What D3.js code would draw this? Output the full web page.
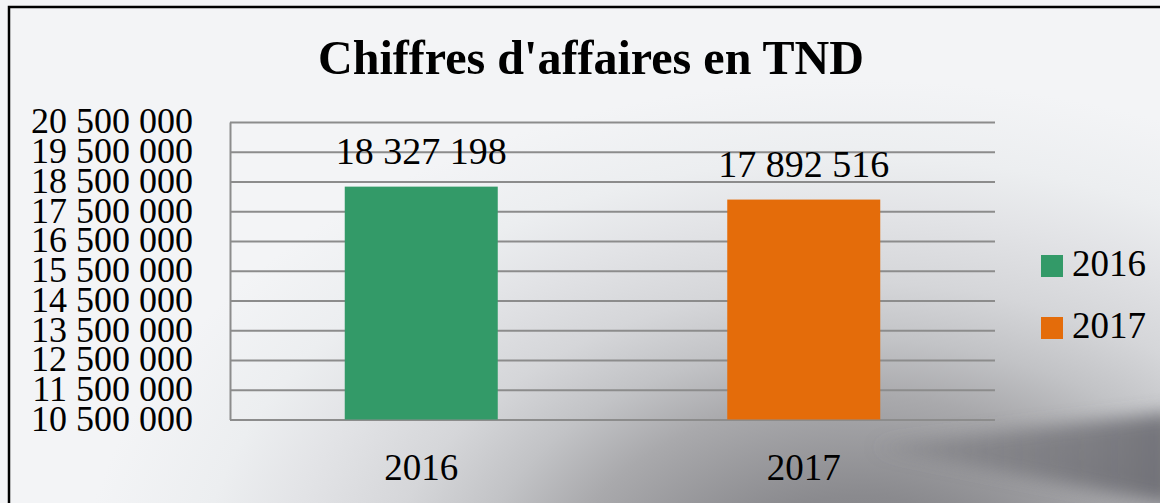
<!DOCTYPE html>
<html>
<head>
<meta charset="utf-8">
<script src="https://cdn.jsdelivr.net/npm/d3@7"></script>
<style>
  html, body { margin: 0; padding: 0; overflow: hidden; background: #f3f4f6; }
  text { font-family: "Palatino Linotype", "Book Antiqua", Palatino, "Liberation Serif", serif; fill: #000; }
</style>
</head>
<body>
<script>
// Données du graphique
const years = ["2016", "2017"];
const revenues = [18327198, 17892516];
const colors = ["#339a68", "#e46c0a"];
const tickValues = [10500000, 11500000, 12500000, 13500000, 14500000, 15500000,
  16500000, 17500000, 18500000, 19500000, 20500000];

const width = 1160;
const height = 503;
const plot = { left: 230, right: 995, top: 122, bottom: 419.5 };

const svg = d3.select("body").append("svg")
  .attr("width", width)
  .attr("height", height);

const defs = svg.append("defs");

// fond : photo grise simulée (ombre en bas à droite)
const bg = defs.append("radialGradient")
  .attr("id", "bgShade")
  .attr("gradientUnits", "userSpaceOnUse")
  .attr("cx", 860).attr("cy", 600).attr("r", 520)
  .attr("gradientTransform", "translate(860 600) scale(1.5 1) translate(-860 -600)");
[
  [0, "#7e7e83"],
  [0.2, "#8a8a8e"],
  [0.39, "#a9a9ac"],
  [0.5, "#c2c3c6"],
  [0.61, "#d5d6d9"],
  [0.74, "#e2e3e6"],
  [0.85, "#eceef0"],
  [1, "#f3f4f6"]
].forEach(([o, c]) => bg.append("stop").attr("offset", o).attr("stop-color", c));

const wingGrad = defs.append("linearGradient")
  .attr("id", "wing")
  .attr("x1", "0").attr("x2", "1").attr("y1", "0").attr("y2", "0");
wingGrad.append("stop").attr("offset", "0").attr("stop-color", "#6a6a70").attr("stop-opacity", 0.25);
wingGrad.append("stop").attr("offset", "0.5").attr("stop-color", "#66666c").attr("stop-opacity", 0.55);
wingGrad.append("stop").attr("offset", "1").attr("stop-color", "#5e5e65").attr("stop-opacity", 0.8);

defs.append("filter").attr("id", "blur")
  .attr("x", "-20%").attr("y", "-50%").attr("width", "140%").attr("height", "200%")
  .append("feGaussianBlur").attr("stdDeviation", 9);

svg.append("rect").attr("width", width).attr("height", height).attr("fill", "url(#bgShade)");
svg.append("path")
  .attr("d", "M873,447 L1175,412 L1175,505 Z")
  .attr("fill", "url(#wing)")
  .attr("filter", "url(#blur)");

// cadre
svg.append("path")
  .attr("d", "M9,510 L9,7 L1170,7")
  .attr("fill", "none")
  .attr("stroke", "#000")
  .attr("stroke-width", 2.5);

// titre
svg.append("text")
  .attr("x", 591)
  .attr("y", 74)
  .attr("text-anchor", "middle")
  .attr("font-size", 48)
  .attr("font-weight", "bold")
  .attr("textLength", 546)
  .attr("lengthAdjust", "spacingAndGlyphs")
  .text("Chiffres d'affaires en TND");

// échelles
const x = d3.scaleBand()
  .domain(years)
  .range([plot.left, plot.right])
  .paddingInner(0.6)
  .paddingOuter(0.3);

const y = d3.scaleLinear()
  .domain([10500000, 20500000])
  .range([plot.bottom, plot.top]);

const fmt = (d) => d3.format(",")(d).replace(/,/g, " ");

// axe Y + quadrillage
const yAxis = d3.axisLeft(y)
  .tickValues(tickValues)
  .tickFormat(fmt)
  .tickSizeInner(-(plot.right - plot.left))
  .tickSizeOuter(0)
  .tickPadding(37);

const gy = svg.append("g")
  .attr("transform", `translate(${plot.left},0)`)
  .call(yAxis);
gy.select(".domain").attr("stroke", "#8c8c8c").attr("stroke-width", 2);
gy.selectAll(".tick line").attr("stroke", "#8c8c8c").attr("stroke-width", 2);
gy.selectAll(".tick text")
  .attr("font-size", 36)
  .attr("font-family", null)
  .attr("dy", "0.3em");

// barres
svg.append("g").selectAll("rect")
  .data(years)
  .enter().append("rect")
  .attr("x", (d) => x(d))
  .attr("y", (d, i) => y(revenues[i]))
  .attr("width", x.bandwidth())
  .attr("height", (d, i) => plot.bottom - y(revenues[i]))
  .attr("fill", (d, i) => colors[i]);

// étiquettes de données
svg.append("g").selectAll("text")
  .data(years)
  .enter().append("text")
  .attr("x", (d) => x(d) + x.bandwidth() / 2)
  .attr("y", (d, i) => y(revenues[i]) - 23)
  .attr("text-anchor", "middle")
  .attr("font-size", 38)
  .text((d, i) => fmt(revenues[i]));

// axe X
const xAxis = d3.axisBottom(x).tickSize(0).tickPadding(0);
const gx = svg.append("g")
  .attr("transform", `translate(0,${plot.bottom})`)
  .call(xAxis);
gx.select(".domain").remove();
gx.selectAll(".tick text")
  .attr("font-size", 37)
  .attr("font-family", null)
  .attr("dy", null)
  .attr("y", 60);

// légende
const legend = svg.append("g").selectAll("g")
  .data(years)
  .enter().append("g")
  .attr("transform", (d, i) => `translate(1041,${255 + i * 62})`);
legend.append("rect")
  .attr("width", 22)
  .attr("height", 22)
  .attr("fill", (d, i) => colors[i]);
legend.append("text")
  .attr("x", 31)
  .attr("y", 21)
  .attr("font-size", 37)
  .text((d) => d);
</script>
</body>
</html>
